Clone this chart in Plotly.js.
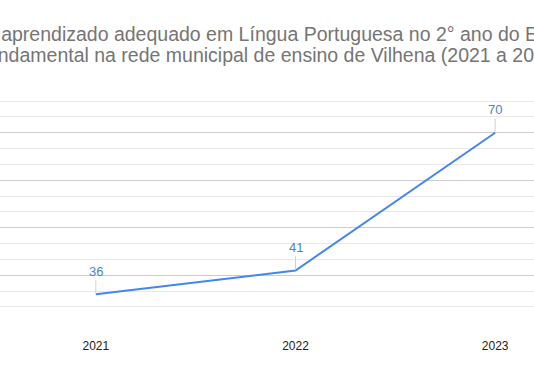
<!DOCTYPE html>
<html><head><meta charset="utf-8">
<script src="https://cdn.plot.ly/plotly-3.0.1.min.js"></script>
<style>
html,body{margin:0;padding:0;overflow:hidden;width:534px;height:371px;background:#fff}
#chart{position:absolute;left:-62px;top:0;width:660px;height:371px}
</style>
</head><body><div id="chart"></div>
<script>
const titleLine1 = '% de aprendizado adequado em Língua Portuguesa no 2° ano do Ensino';
const titleLine2 = 'Fundamental na rede municipal de ensino de Vilhena (2021 a 2023)';
const years = ['2021', '2022', '2023'];
const values = [36, 41, 70];
const yMajorTicks = [30, 40, 50, 60, 70, 80];
const yMinorTicks = [33.33, 36.67, 43.33, 46.67, 53.33, 56.67, 63.33, 66.67, 73.33, 76.67];

const lineColor = '#4285F4';
const labelColor = '#4a86c8';
const font = 'Liberation Sans, Arial, sans-serif';

const traces = [
  {
    type: 'scatter', mode: 'lines',
    x: years, y: values, yaxis: 'y',
    line: {color: lineColor, width: 2},
    hoverinfo: 'skip'
  },
  {
    type: 'scatter', mode: 'none',
    x: years, y: values, yaxis: 'y2',
    hoverinfo: 'skip', showlegend: false
  }
];

// data labels: category positions are given by index (numeric-looking category names
// would otherwise be read as serial numbers)
const annotations = years.map((yr, i) => ({
  x: years.indexOf(yr), y: values[i], xref: 'x', yref: 'y',
  text: String(values[i]),
  showarrow: true, arrowhead: 0, arrowwidth: 1, arrowcolor: '#d0d0d0',
  ax: 0, ay: -23, standoff: 1,
  font: {family: font, size: 13, color: labelColor}
}));

// second title line (annotation for tighter line spacing)
annotations.push({
  xref: 'paper', yref: 'paper',
  x: (330 - 58) / 599, y: 1 + (85 - 55) / 238,
  xanchor: 'center', yanchor: 'middle',
  showarrow: false, text: titleLine2,
  font: {family: font, size: 19.5, color: '#757575'}
});

const layout = {
  width: 660, height: 371,
  margin: {l: 58, r: 3, t: 85, b: 48},
  paper_bgcolor: '#ffffff', plot_bgcolor: 'rgba(0,0,0,0)',
  showlegend: false,
  title: {
    text: titleLine1,
    x: 0.5, xref: 'container', xanchor: 'center',
    y: 1 - 34/371, yref: 'container', yanchor: 'middle',
    font: {family: font, size: 19.5, color: '#757575'}
  },
  xaxis: {
    type: 'category', range: [-0.5, 2.5],
    showgrid: false, showline: false, zeroline: false, ticks: '',
    ticklabelstandoff: 14,
    tickfont: {family: font, size: 12, color: '#222222'}
  },
  yaxis: {
    range: [29.95, 80.05], tickmode: 'array', tickvals: yMajorTicks,
    showgrid: true, gridcolor: '#cccccc', gridwidth: 1,
    showline: false, zeroline: false, ticks: '',
    tickfont: {family: font, size: 12, color: '#444444'}
  },
  yaxis2: {
    overlaying: 'y', side: 'left', range: [29.95, 80.05],
    tickmode: 'array', tickvals: yMinorTicks, showticklabels: false,
    showgrid: true, gridcolor: '#e8e8e8', gridwidth: 1,
    showline: false, zeroline: false, ticks: ''
  },
  annotations: annotations
};

Plotly.newPlot('chart', traces, layout, {displayModeBar: false, staticPlot: true});
</script>
</body></html>
